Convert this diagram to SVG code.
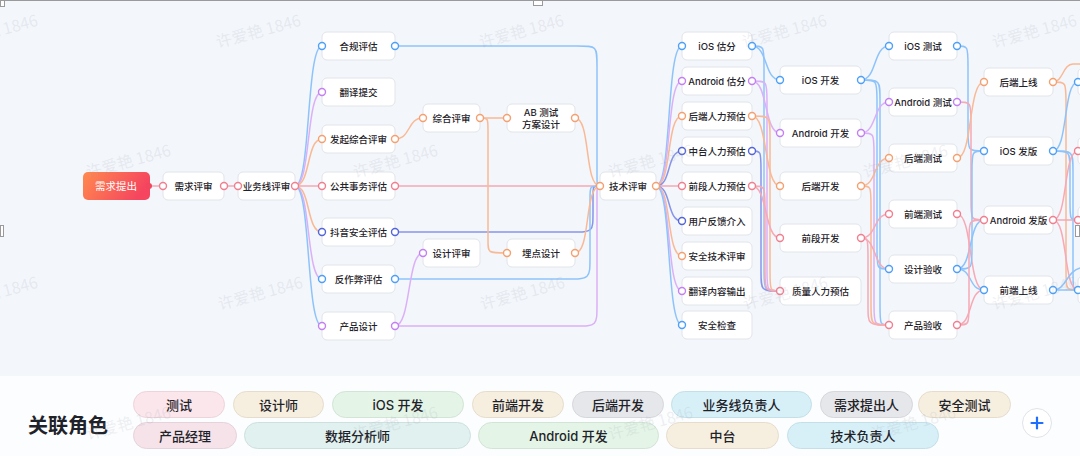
<svg xmlns="http://www.w3.org/2000/svg" width="1080" height="456" viewBox="0 0 1080 456">
<defs>
<linearGradient id="gOr" x1="0" y1="0" x2="1" y2="0.3">
<stop offset="0" stop-color="#ff8a4e"/>
<stop offset="1" stop-color="#f5455f"/>
</linearGradient>
<style>
.bx{fill:#ffffff;stroke:#e1e4e9;stroke-width:1}
.t{font-family:Inter,"Noto Sans CJK SC",sans-serif;font-size:9.5px;font-weight:500;fill:#1f2329;text-anchor:middle;dominant-baseline:central}
.c{fill:none;stroke-width:1.5}
.lb{stroke:#8ec3fa}.lp{stroke:#dcb0f7}.lo{stroke:#f9b995}.lk{stroke:#f7a9b5}.li{stroke:#8795e8}
.p{fill:#ffffff;stroke-width:1.4}
.pb{stroke:#4da0f7}.pp{stroke:#c47ff2}.po{stroke:#f5a070}.pk{stroke:#f07f90}.pi{stroke:#5465da}
.wm{font-family:"Noto Sans CJK SC",sans-serif;font-size:16px;fill:#9aa3b0;fill-opacity:0.17;text-anchor:middle;dominant-baseline:central}
.pill text{font-family:Inter,"Noto Sans CJK SC",sans-serif;font-size:13px;font-weight:500;fill:#1f2329;text-anchor:middle;dominant-baseline:central}
.beige{fill:#f6efe0;stroke:#e6dccb}.pink{fill:#fbe6ec;stroke:#ecd4da}.pink2{fill:#f6e3ea;stroke:#e6d2da}.green{fill:#e4f5e7;stroke:#d2e4d5}.gray{fill:#e6e7ea;stroke:#d6d7da}.cyan{fill:#d7f0f8;stroke:#c4dfe8}.teal{fill:#e0f1ef;stroke:#cde0de}
</style>
</defs>
<rect x="0" y="0" width="1080" height="456" fill="#f3f6fb"/>

<g id="connectors">
<path class="c lk" d="M149,186 H163"/>
<path class="c lk" d="M224,186 H238"/>
<path class="c lb" d="M295,186 C311,186 306,46 322,46"/>
<path class="c lp" d="M295,186 C311,186 306,92 322,92"/>
<path class="c lo" d="M295,186 C311,186 306,139 322,139"/>
<path class="c lk" d="M295,186 H322"/>
<path class="c lo" d="M295,186 C311,186 306,232 322,232"/>
<path class="c lp" d="M295,186 C311,186 306,279 322,279"/>
<path class="c lb" d="M295,186 C311,186 306,326 322,326"/>
<path class="c lb" d="M395,46 H577 C597,46 597,46 597,66 V176 C597,186 597,186 600,186"/>
<path class="c lo" d="M395,139 C411,139 407,118 423,118"/>
<path class="c lk" d="M395,186 H600"/>
<path class="c li" d="M395,232 H572 C593,232 593,232 593,212 V196 C593,186 593,186 600,186"/>
<path class="c lb" d="M395,279 H566 C590,279 590,279 590,257 V198 C590,186 590,186 600,186"/>
<path class="c lp" d="M395,326 C411,326 407,253 423,253"/>
<path class="c lp" d="M395,326 H575 C597,326 597,326 597,304 V196 C597,186 597,186 600,186"/>
<path class="c lo" d="M480,118 H507"/>
<path class="c lo" d="M480,118 C488,118 488,118 488,130 V241 C488,253 488,253 507,253"/>
<path class="c lo" d="M575,118 C591,118 584,186 600,186"/>
<path class="c lo" d="M575,253 C591,253 584,186 600,186"/>
<path class="c lb" d="M656,186 C672,186 666,46 682,46"/>
<path class="c lp" d="M656,186 C672,186 666,81 682,81"/>
<path class="c lo" d="M656,186 C672,186 666,116 682,116"/>
<path class="c li" d="M656,186 C672,186 666,151 682,151"/>
<path class="c lk" d="M656,186 H682"/>
<path class="c li" d="M656,186 C672,186 666,221 682,221"/>
<path class="c lo" d="M656,186 C672,186 666,256 682,256"/>
<path class="c lp" d="M656,186 C672,186 666,291 682,291"/>
<path class="c lb" d="M656,186 C672,186 666,325 682,325"/>
<path class="c lb" d="M752,46 C768,46 764,80 780,80"/>
<path class="c lb" d="M752,46 C764,46 764,46 764,66 V271 C764,291 764,291 780,291"/>
<path class="c lp" d="M752,81 C768,81 764,133 780,133"/>
<path class="c lp" d="M752,81 C767,81 767,81 767,101 V271 C767,291 767,291 780,291"/>
<path class="c lo" d="M752,116 C768,116 764,186 780,186"/>
<path class="c lo" d="M752,116 C770,116 770,116 770,136 V271 C770,291 770,291 780,291"/>
<path class="c li" d="M752,151 C761,151 761,151 761,171 V271 C761,291 761,291 780,291"/>
<path class="c lk" d="M752,186 C768,186 764,238 780,238"/>
<path class="c lk" d="M752,186 C765,186 765,186 765,206 V271 C765,291 765,291 780,291"/>
<path class="c lb" d="M861,80 C877,80 873,46 889,46"/>
<path class="c lb" d="M861,80 C877,80 877,80 877,100 V249 C877,269 877,269 889,269"/>
<path class="c lb" d="M861,80 C880,80 880,80 880,100 V305 C880,325 880,325 889,325"/>
<path class="c lp" d="M861,133 C877,133 873,102 889,102"/>
<path class="c lp" d="M861,133 C874,133 874,133 874,153 V305 C874,325 874,325 889,325"/>
<path class="c lo" d="M861,186 C877,186 873,158 889,158"/>
<path class="c lo" d="M861,186 C871,186 871,186 871,206 V305 C871,325 871,325 889,325"/>
<path class="c lk" d="M861,238 C877,238 873,214 889,214"/>
<path class="c lk" d="M861,238 C877,238 873,269 889,269"/>
<path class="c lk" d="M861,238 C868,238 868,238 868,258 V305 C868,325 868,325 889,325"/>
<path class="c lb" d="M957,46 C968,46 968,46 968,66 V131 C968,151 968,151 984,151"/>
<path class="c lk" d="M957,102 C971,102 971,102 971,122 V200 C971,220 971,220 984,220"/>
<path class="c lo" d="M957,158 C973,158 968,82 984,82"/>
<path class="c lk" d="M957,214 C973,214 968,290 984,290"/>
<path class="c lb" d="M957,269 C972,269 972,269 972,249 V171 C972,151 972,151 984,151"/>
<path class="c lb" d="M957,269 C973,269 968,220 984,220"/>
<path class="c lb" d="M957,269 C973,269 968,290 984,290"/>
<path class="c lk" d="M957,325 C969,325 969,325 969,305 V240 C969,220 969,220 984,220"/>
<path class="c lk" d="M957,325 C973,325 968,290 984,290"/>
<path class="c lo" d="M1053,82 C1063,82 1063,64 1073,64 H1080"/>
<path class="c lo" d="M1053,82 C1066,82 1066,82 1066,102 V270 C1066,290 1066,290 1078,290"/>
<path class="c lb" d="M1053,151 C1068,151 1063,82 1078,82"/>
<path class="c lb" d="M1053,151 C1070,151 1070,151 1070,171 V200 C1070,220 1070,220 1078,220"/>
<path class="c lb" d="M1053,151 C1073,151 1073,151 1073,171 V270 C1073,290 1073,290 1078,290"/>
<path class="c lk" d="M1053,220 H1078"/>
<path class="c lk" d="M1053,220 C1068,220 1063,151 1078,151"/>
<path class="c lk" d="M1053,220 C1068,220 1063,290 1078,290"/>
<path class="c lb" d="M1053,290 H1078"/>
<path class="c lb" d="M1053,290 C1066,290 1066,272 1080,268"/>
</g>

<g id="n-xuqiutichu">
<rect x="83" y="172" width="67" height="28" rx="5" fill="url(#gOr)"/>
<text x="116" y="186" style="font-family:Inter,'Noto Sans CJK SC',sans-serif;font-size:10.5px;fill:#ffffff;text-anchor:middle;dominant-baseline:central">需求提出</text>
<circle cx="149" cy="186" r="3" fill="#f0465e"/>
</g>
<g id="n-xuqiupingshen">
<rect class="bx" x="163" y="172" width="61" height="28" rx="5"/>
<text class="t" x="193.5" y="186">需求评审</text>
<circle class="p pk" cx="163" cy="186" r="3.5"/><circle class="p pk" cx="224" cy="186" r="3.5"/>
</g>
<g id="n-yewuxian">
<rect class="bx" x="238" y="172" width="57" height="28" rx="5"/>
<text class="t" x="266.5" y="186">业务线评审</text>
<circle class="p pk" cx="238" cy="186" r="3.5"/><circle class="p pk" cx="295" cy="186" r="3.5"/>
</g>

<g id="n-hegui">
<rect class="bx" x="322" y="32" width="73" height="28" rx="5"/>
<text class="t" x="358.5" y="46">合规评估</text>
<circle class="p pb" cx="322" cy="46" r="3.5"/><circle class="p pb" cx="395" cy="46" r="3.5"/>
</g>
<g id="n-fanyitijiao">
<rect class="bx" x="322" y="78" width="73" height="28" rx="5"/>
<text class="t" x="358.5" y="92">翻译提交</text>
<circle class="p pp" cx="322" cy="92" r="3.5"/>
</g>
<g id="n-faqizonghe">
<rect class="bx" x="322" y="125" width="73" height="28" rx="5"/>
<text class="t" x="358.5" y="139">发起综合评审</text>
<circle class="p po" cx="322" cy="139" r="3.5"/><circle class="p po" cx="395" cy="139" r="3.5"/>
</g>
<g id="n-gonggong">
<rect class="bx" x="322" y="172" width="73" height="28" rx="5"/>
<text class="t" x="358.5" y="186">公共事务评估</text>
<circle class="p pk" cx="322" cy="186" r="3.5"/><circle class="p pk" cx="395" cy="186" r="3.5"/>
</g>
<g id="n-douyinanquan">
<rect class="bx" x="322" y="218" width="73" height="28" rx="5"/>
<text class="t" x="358.5" y="232">抖音安全评估</text>
<circle class="p pi" cx="322" cy="232" r="3.5"/><circle class="p pi" cx="395" cy="232" r="3.5"/>
</g>
<g id="n-fanzuobi">
<rect class="bx" x="322" y="265" width="73" height="28" rx="5"/>
<text class="t" x="358.5" y="279">反作弊评估</text>
<circle class="p pb" cx="322" cy="279" r="3.5"/><circle class="p pb" cx="395" cy="279" r="3.5"/>
</g>
<g id="n-chanpinsheji">
<rect class="bx" x="322" y="312" width="73" height="28" rx="5"/>
<text class="t" x="358.5" y="326">产品设计</text>
<circle class="p pp" cx="322" cy="326" r="3.5"/><circle class="p pp" cx="395" cy="326" r="3.5"/>
</g>

<g id="n-zonghe">
<rect class="bx" x="423" y="104" width="57" height="28" rx="5"/>
<text class="t" x="451.5" y="118">综合评审</text>
<circle class="p po" cx="423" cy="118" r="3.5"/><circle class="p po" cx="480" cy="118" r="3.5"/>
</g>
<g id="n-shejipingshen">
<rect class="bx" x="423" y="239" width="57" height="28" rx="5"/>
<text class="t" x="451.5" y="253">设计评审</text>
<circle class="p pp" cx="423" cy="253" r="3.5"/>
</g>
<g id="n-abtest">
<rect class="bx" x="507" y="104" width="68" height="28" rx="5"/>
<text class="t" x="541" y="112.5">AB 测试</text>
<text class="t" x="541" y="124">方案设计</text>
<circle class="p po" cx="507" cy="118" r="3.5"/><circle class="p po" cx="575" cy="118" r="3.5"/>
</g>
<g id="n-maidian">
<rect class="bx" x="507" y="239" width="68" height="28" rx="5"/>
<text class="t" x="541" y="253">埋点设计</text>
<circle class="p po" cx="507" cy="253" r="3.5"/><circle class="p po" cx="575" cy="253" r="3.5"/>
</g>
<g id="n-jishupingshen">
<rect class="bx" x="600" y="172" width="56" height="28" rx="5"/>
<text class="t" x="628" y="186">技术评审</text>
<circle class="p po" cx="600" cy="186" r="3.5"/><circle class="p po" cx="656" cy="186" r="3.5"/>
</g>

<g id="n-iosgufen">
<rect class="bx" x="682" y="32" width="70" height="28" rx="5"/>
<text class="t" x="717" y="46">iOS 估分</text>
<circle class="p pb" cx="682" cy="46" r="3.5"/><circle class="p pb" cx="752" cy="46" r="3.5"/>
</g>
<g id="n-androidgufen">
<rect class="bx" x="682" y="67" width="70" height="28" rx="5"/>
<text class="t" x="717" y="81">Android 估分</text>
<circle class="p pp" cx="682" cy="81" r="3.5"/><circle class="p pp" cx="752" cy="81" r="3.5"/>
</g>
<g id="n-houduanrenli">
<rect class="bx" x="682" y="102" width="70" height="28" rx="5"/>
<text class="t" x="717" y="116">后端人力预估</text>
<circle class="p po" cx="682" cy="116" r="3.5"/><circle class="p po" cx="752" cy="116" r="3.5"/>
</g>
<g id="n-zhongtairenli">
<rect class="bx" x="682" y="137" width="70" height="28" rx="5"/>
<text class="t" x="717" y="151">中台人力预估</text>
<circle class="p pi" cx="682" cy="151" r="3.5"/><circle class="p pi" cx="752" cy="151" r="3.5"/>
</g>
<g id="n-qianduanrenli">
<rect class="bx" x="682" y="172" width="70" height="28" rx="5"/>
<text class="t" x="717" y="186">前段人力预估</text>
<circle class="p pk" cx="682" cy="186" r="3.5"/><circle class="p pk" cx="752" cy="186" r="3.5"/>
</g>
<g id="n-yonghufankui">
<rect class="bx" x="682" y="207" width="70" height="28" rx="5"/>
<text class="t" x="717" y="221">用户反馈介入</text>
<circle class="p pi" cx="682" cy="221" r="3.5"/>
</g>
<g id="n-anquanjishu">
<rect class="bx" x="682" y="242" width="70" height="28" rx="5"/>
<text class="t" x="717" y="256">安全技术评审</text>
<circle class="p po" cx="682" cy="256" r="3.5"/>
</g>
<g id="n-fanyineirong">
<rect class="bx" x="682" y="277" width="70" height="28" rx="5"/>
<text class="t" x="717" y="291">翻译内容输出</text>
<circle class="p pp" cx="682" cy="291" r="3.5"/>
</g>
<g id="n-anquanjiancha">
<rect class="bx" x="682" y="311" width="70" height="28" rx="5"/>
<text class="t" x="717" y="325">安全检查</text>
<circle class="p pb" cx="682" cy="325" r="3.5"/>
</g>

<g id="n-ioskaifa">
<rect class="bx" x="780" y="66" width="81" height="28" rx="5"/>
<text class="t" x="820.5" y="80">iOS 开发</text>
<circle class="p pb" cx="780" cy="80" r="3.5"/><circle class="p pb" cx="861" cy="80" r="3.5"/>
</g>
<g id="n-androidkaifa">
<rect class="bx" x="780" y="119" width="81" height="28" rx="5"/>
<text class="t" x="820.5" y="133">Android 开发</text>
<circle class="p pp" cx="780" cy="133" r="3.5"/><circle class="p pp" cx="861" cy="133" r="3.5"/>
</g>
<g id="n-houduankaifa">
<rect class="bx" x="780" y="172" width="81" height="28" rx="5"/>
<text class="t" x="820.5" y="186">后端开发</text>
<circle class="p po" cx="780" cy="186" r="3.5"/><circle class="p po" cx="861" cy="186" r="3.5"/>
</g>
<g id="n-qianduankaifa">
<rect class="bx" x="780" y="224" width="81" height="28" rx="5"/>
<text class="t" x="820.5" y="238">前段开发</text>
<circle class="p pk" cx="780" cy="238" r="3.5"/><circle class="p pk" cx="861" cy="238" r="3.5"/>
</g>
<g id="n-zhiliangrenli">
<rect class="bx" x="780" y="277" width="81" height="28" rx="5"/>
<text class="t" x="820.5" y="291">质量人力预估</text>
<circle class="p pk" cx="780" cy="291" r="3.5"/>
</g>

<g id="n-iosceshi">
<rect class="bx" x="889" y="32" width="68" height="28" rx="5"/>
<text class="t" x="923" y="46">iOS 测试</text>
<circle class="p pb" cx="889" cy="46" r="3.5"/><circle class="p pb" cx="957" cy="46" r="3.5"/>
</g>
<g id="n-androidceshi">
<rect class="bx" x="889" y="88" width="68" height="28" rx="5"/>
<text class="t" x="923" y="102">Android 测试</text>
<circle class="p pp" cx="889" cy="102" r="3.5"/><circle class="p pp" cx="957" cy="102" r="3.5"/>
</g>
<g id="n-houduanceshi">
<rect class="bx" x="889" y="144" width="68" height="28" rx="5"/>
<text class="t" x="923" y="158">后端测试</text>
<circle class="p po" cx="889" cy="158" r="3.5"/><circle class="p po" cx="957" cy="158" r="3.5"/>
</g>
<g id="n-qianduanceshi">
<rect class="bx" x="889" y="200" width="68" height="28" rx="5"/>
<text class="t" x="923" y="214">前端测试</text>
<circle class="p pk" cx="889" cy="214" r="3.5"/><circle class="p pk" cx="957" cy="214" r="3.5"/>
</g>
<g id="n-shejiyanshou">
<rect class="bx" x="889" y="255" width="68" height="28" rx="5"/>
<text class="t" x="923" y="269">设计验收</text>
<circle class="p pb" cx="889" cy="269" r="3.5"/><circle class="p pb" cx="957" cy="269" r="3.5"/>
</g>
<g id="n-chanpinyanshou">
<rect class="bx" x="889" y="311" width="68" height="28" rx="5"/>
<text class="t" x="923" y="325">产品验收</text>
<circle class="p pk" cx="889" cy="325" r="3.5"/><circle class="p pk" cx="957" cy="325" r="3.5"/>
</g>

<g id="n-houduanshangxian">
<rect class="bx" x="984" y="68" width="69" height="28" rx="5"/>
<text class="t" x="1018.5" y="82">后端上线</text>
<circle class="p po" cx="984" cy="82" r="3.5"/><circle class="p po" cx="1053" cy="82" r="3.5"/>
</g>
<g id="n-iosfaban">
<rect class="bx" x="984" y="137" width="69" height="28" rx="5"/>
<text class="t" x="1018.5" y="151">iOS 发版</text>
<circle class="p pb" cx="984" cy="151" r="3.5"/><circle class="p pb" cx="1053" cy="151" r="3.5"/>
</g>
<g id="n-androidfaban">
<rect class="bx" x="984" y="206" width="69" height="28" rx="5"/>
<text class="t" x="1018.5" y="220">Android 发版</text>
<circle class="p pk" cx="984" cy="220" r="3.5"/><circle class="p pk" cx="1053" cy="220" r="3.5"/>
</g>
<g id="n-qianduanshangxian">
<rect class="bx" x="984" y="276" width="69" height="28" rx="5"/>
<text class="t" x="1018.5" y="290">前端上线</text>
<circle class="p pb" cx="984" cy="290" r="3.5"/><circle class="p pb" cx="1053" cy="290" r="3.5"/>
</g>

<g id="n-edge-right">
<rect class="bx" x="1078" y="68" width="60" height="28" rx="5"/>
<rect class="bx" x="1078" y="137" width="60" height="28" rx="5"/>
<rect class="bx" x="1078" y="206" width="60" height="28" rx="5"/>
<rect class="bx" x="1078" y="276" width="60" height="28" rx="5"/>
<circle class="p pb" cx="1078" cy="82" r="3.5"/>
<circle class="p pk" cx="1078" cy="151" r="3.5"/>
<circle class="p pk" cx="1078" cy="220" r="3.5"/>
<circle class="p pb" cx="1078" cy="290" r="3.5"/>
</g>

<g id="selection">
<line x1="0" y1="0.5" x2="1080" y2="0.5" stroke="#9a9a9a" stroke-width="1"/>
<rect x="0.5" y="0.5" width="4" height="6" fill="#ffffff" stroke="#9a9a9a"/>
<rect x="533.5" y="0.5" width="9" height="5" fill="#ffffff" stroke="#9a9a9a"/>
<rect x="0.5" y="225.5" width="3" height="11" fill="#ffffff" stroke="#9a9a9a"/>
<rect x="1075.5" y="225.5" width="4" height="11" fill="#ffffff" stroke="#9a9a9a"/>
</g>

<g id="roles">
<rect x="0" y="376" width="1080" height="80" fill="#fcfdfe"/>
<text x="28" y="426" style="font-family:Inter,'Noto Sans CJK SC',sans-serif;font-size:20px;font-weight:700;fill:#1f2329;dominant-baseline:central">关联角色</text>
<g class="pill"><rect class="pink" x="133.5" y="391.5" width="91" height="26" rx="13"/><text x="179" y="404.5">测试</text></g>
<g class="pill"><rect class="beige" x="233.5" y="391.5" width="90" height="26" rx="13"/><text x="278.5" y="404.5">设计师</text></g>
<g class="pill"><rect class="green" x="332.5" y="391.5" width="131" height="26" rx="13"/><text x="398" y="404.5">iOS 开发</text></g>
<g class="pill"><rect class="beige" x="472.5" y="391.5" width="91" height="26" rx="13"/><text x="518" y="404.5">前端开发</text></g>
<g class="pill"><rect class="gray" x="572.5" y="391.5" width="91" height="26" rx="13"/><text x="618" y="404.5">后端开发</text></g>
<g class="pill"><rect class="cyan" x="671.5" y="391.5" width="140" height="26" rx="13"/><text x="741.5" y="404.5">业务线负责人</text></g>
<g class="pill"><rect class="gray" x="820.5" y="391.5" width="92" height="26" rx="13"/><text x="866.5" y="404.5">需求提出人</text></g>
<g class="pill"><rect class="beige" x="918.5" y="391.5" width="92" height="26" rx="13"/><text x="964.5" y="404.5">安全测试</text></g>
<g class="pill"><rect class="pink2" x="133.5" y="422.5" width="103" height="26" rx="13"/><text x="185" y="435.5">产品经理</text></g>
<g class="pill"><rect class="teal" x="244.5" y="422.5" width="226" height="26" rx="13"/><text x="357.5" y="435.5">数据分析师</text></g>
<g class="pill"><rect class="green" x="478.5" y="422.5" width="180" height="26" rx="13"/><text x="568.5" y="435.5">Android 开发</text></g>
<g class="pill"><rect class="beige" x="666.5" y="422.5" width="112" height="26" rx="13"/><text x="722.5" y="435.5">中台</text></g>
<g class="pill"><rect class="cyan" x="787.5" y="422.5" width="151" height="26" rx="13"/><text x="863" y="435.5">技术负责人</text></g>
<g id="add-button">
<circle cx="1037" cy="423" r="14.5" fill="#ffffff" stroke="#e0e3e8"/>
<line x1="1031.5" y1="423" x2="1042.5" y2="423" stroke="#1f6fff" stroke-width="2.2" stroke-linecap="round"/>
<line x1="1037" y1="417.5" x2="1037" y2="428.5" stroke="#1f6fff" stroke-width="2.2" stroke-linecap="round"/>
</g>
</g>

<g id="watermarks">
<text class="wm" transform="translate(-5,30) rotate(-15)">许爱艳 1846</text>
<text class="wm" transform="translate(258,30) rotate(-15)">许爱艳 1846</text>
<text class="wm" transform="translate(521,30) rotate(-15)">许爱艳 1846</text>
<text class="wm" transform="translate(784,30) rotate(-15)">许爱艳 1846</text>
<text class="wm" transform="translate(1034,30) rotate(-15)">许爱艳 1846</text>
<text class="wm" transform="translate(128,160) rotate(-15)">许爱艳 1846</text>
<text class="wm" transform="translate(395,160) rotate(-15)">许爱艳 1846</text>
<text class="wm" transform="translate(650,160) rotate(-15)">许爱艳 1846</text>
<text class="wm" transform="translate(905,160) rotate(-15)">许爱艳 1846</text>
<text class="wm" transform="translate(-5,292) rotate(-15)">许爱艳 1846</text>
<text class="wm" transform="translate(260,292) rotate(-15)">许爱艳 1846</text>
<text class="wm" transform="translate(522,292) rotate(-15)">许爱艳 1846</text>
<text class="wm" transform="translate(785,292) rotate(-15)">许爱艳 1846</text>
<text class="wm" transform="translate(1034,292) rotate(-15)">许爱艳 1846</text>
<text class="wm" transform="translate(128,422) rotate(-15)">许爱艳 1846</text>
<text class="wm" transform="translate(395,422) rotate(-15)">许爱艳 1846</text>
<text class="wm" transform="translate(650,422) rotate(-15)">许爱艳 1846</text>
<text class="wm" transform="translate(913,422) rotate(-15)">许爱艳 1846</text>
</g>
</svg>
